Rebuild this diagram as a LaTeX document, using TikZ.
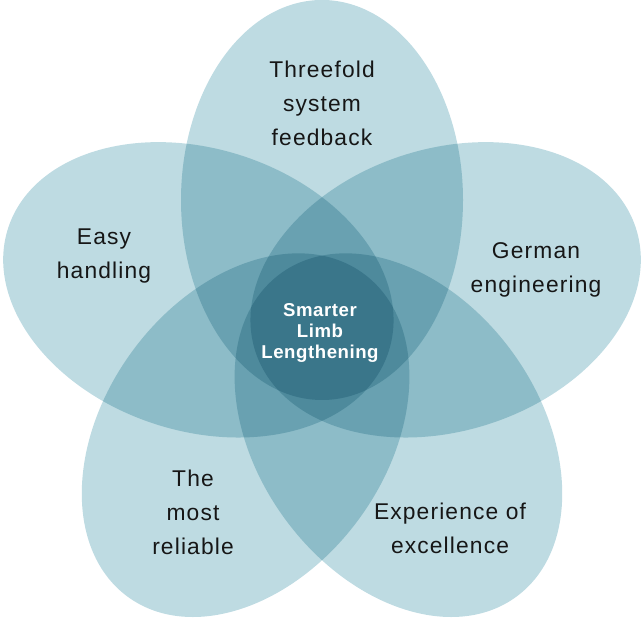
\documentclass[tikz,border=0pt]{standalone}
\usepackage{fontspec}
\setmainfont{Liberation Sans}
\newfontfamily\petalfont{Liberation Sans}[LetterSpace=5]
\newfontfamily\corefont{Liberation Sans}[LetterSpace=3]
\definecolor{petalblue}{RGB}{190,219,226}
\definecolor{petalink}{RGB}{22,22,22}
\begin{document}
\begin{tikzpicture}[x=0.5pt,y=0.5pt,
   petal/.style={fill=petalblue},
   petaltext/.style={align=center,text=petalink,font=\petalfont\fontsize{11.4}{17}\selectfont},
   coretext/.style={align=center,text=white,font=\corefont\bfseries\fontsize{9.3}{10.35}\selectfont}]
   \useasboundingbox (0,0) rectangle (641,620);
   \coordinate (core) at (322,290);
   % five overlapping petals, multiplied
   \begin{scope}[blend group=multiply]
   \foreach \a in {90,162,234,306,18}
      \fill [petal,shift={(core)},rotate=\a] (130,0) ellipse [x radius=200,y radius=141];
   \end{scope}
   \node [petaltext] (feedback) at (322,516.6) {Threefold\\system\\feedback};
   \node [petaltext] (handling) at (104,363.5) {Easy\\handling};
   \node [petaltext] (german) at (536,349.6) {German\\engineering};
   \node [petaltext] (reliable) at (193,107.5) {The\\most\\reliable};
   \node [petaltext] (excellence) at (450,92) {Experience of\\excellence};
   \node [coretext] (smarter) at (320,287) {Smarter\\Limb\\Lengthening};
\end{tikzpicture}
\end{document}
